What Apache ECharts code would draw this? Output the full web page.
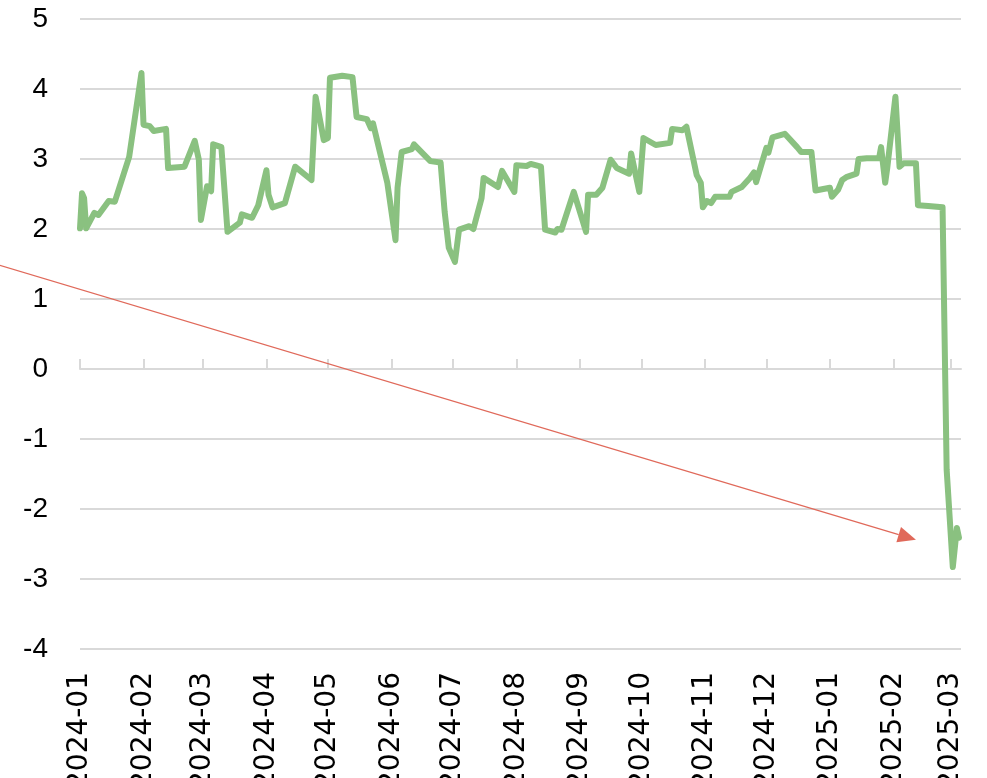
<!DOCTYPE html>
<html>
<head>
<meta charset="utf-8">
<script src="https://cdn.jsdelivr.net/npm/echarts@6/dist/echarts.min.js"></script>
<style>
html,body{margin:0;padding:0;background:#fff;}
#chart{width:987px;height:778px;}
</style>
</head>
<body>
<div id="chart"></div>
<script>
const dates = [
  '2024-01-01','2024-01-02','2024-01-03','2024-01-04','2024-01-08','2024-01-10','2024-01-15','2024-01-18','2024-01-25','2024-01-31',
  '2024-02-01','2024-02-04','2024-02-06','2024-02-12','2024-02-13','2024-02-21','2024-02-26','2024-02-28','2024-02-29',
  '2024-03-03','2024-03-05','2024-03-06','2024-03-10','2024-03-13','2024-03-19','2024-03-20','2024-03-25','2024-03-28',
  '2024-04-01','2024-04-02','2024-04-04','2024-04-10','2024-04-15','2024-04-23','2024-04-25','2024-04-29',
  '2024-05-01','2024-05-02','2024-05-08','2024-05-13','2024-05-15','2024-05-20','2024-05-22','2024-05-23','2024-05-30',
  '2024-06-03','2024-06-04','2024-06-06','2024-06-11','2024-06-12','2024-06-17','2024-06-20','2024-06-25','2024-06-27','2024-06-29',
  '2024-07-02','2024-07-04','2024-07-09','2024-07-11','2024-07-15','2024-07-16','2024-07-23','2024-07-25','2024-07-31',
  '2024-08-01','2024-08-06','2024-08-08','2024-08-13','2024-08-15','2024-08-20','2024-08-21','2024-08-23','2024-08-29',
  '2024-09-04','2024-09-05','2024-09-09','2024-09-12','2024-09-16','2024-09-19','2024-09-25','2024-09-26','2024-09-30',
  '2024-10-02','2024-10-08','2024-10-15','2024-10-16','2024-10-21','2024-10-23','2024-10-28','2024-10-30','2024-10-31',
  '2024-11-02','2024-11-04','2024-11-06','2024-11-13','2024-11-14','2024-11-19','2024-11-23','2024-11-25','2024-11-26',
  '2024-12-01','2024-12-02','2024-12-04','2024-12-10','2024-12-16','2024-12-18','2024-12-23','2024-12-25',
  '2025-01-01','2025-01-02','2025-01-05','2025-01-07','2025-01-09','2025-01-14','2025-01-15','2025-01-19','2025-01-25','2025-01-26','2025-01-28','2025-01-29',
  '2025-02-02','2025-02-04','2025-02-06','2025-02-12','2025-02-13','2025-02-18','2025-02-25','2025-02-27',
  '2025-03-02','2025-03-04','2025-03-05'
];
const values = [
  2.01,2.51,2.44,2.01,2.23,2.2,2.4,2.39,3.03,4.23,
  3.49,3.47,3.4,3.43,2.87,2.89,3.26,2.99,2.13,
  2.61,2.54,3.21,3.17,1.96,2.09,2.21,2.16,2.34,
  2.84,2.49,2.31,2.37,2.89,2.70,3.89,3.27,
  3.3,4.16,4.19,4.17,3.6,3.57,3.44,3.51,2.66,
  1.84,2.59,3.1,3.14,3.21,3.06,2.97,2.95,2.24,1.73,
  1.53,1.99,2.04,2.0,2.44,2.73,2.6,2.83,2.53,
  2.91,2.9,2.93,2.89,1.99,1.95,2.0,1.99,2.53,
  1.96,2.49,2.49,2.59,2.99,2.87,2.79,3.08,2.53,
  3.3,3.2,3.23,3.43,3.41,3.46,2.77,2.66,2.31,
  2.4,2.37,2.46,2.46,2.53,2.6,2.73,2.81,2.67,
  3.16,3.09,3.31,3.36,3.17,3.1,3.1,2.55,
  2.59,2.46,2.56,2.7,2.74,2.79,3.0,3.01,3.01,3.17,2.66,2.87,
  3.89,2.89,2.94,2.94,2.34,2.33,2.31,-1.44,
  -2.83,-2.27,-2.41
];
const monthTicks = ['2024-01','2024-02','2024-03','2024-04','2024-05','2024-06','2024-07','2024-08',
  '2024-09','2024-10','2024-11','2024-12','2025-01','2025-02','2025-03'];
const xMin = '2024-01-01';
const xMax = '2025-03-06';
const yMin = -4, yMax = 5, yStep = 1;
// annotation arrow (data space): start and end
const arrowStart = ['2023-11-22', 1.49];
const arrowEnd = ['2025-02-12', -2.44];

const chart = echarts.init(document.getElementById('chart'), null, {renderer: 'canvas'});
const gridColor = '#d9d9d9';
const t = s => echarts.time.parse(s).getTime();
const seriesData = dates.map((d, i) => [t(d), values[i]]);
const tickValues = monthTicks.map(m => t(m + '-01'));
const tickLabel = {};
monthTicks.forEach((m, i) => { tickLabel[tickValues[i]] = m; });

chart.setOption({
  animation: false,
  grid: {left: 80, right: 26, top: 19, bottom: 129, containLabel: false, outerBoundsMode: 'none'},
  xAxis: [{
    type: 'value',
    min: t(xMin), max: t(xMax),
    axisLine: {show: false, onZero: false},
    axisTick: {show: false},
    splitLine: {show: false},
    axisLabel: {
      rotate: 90, margin: 23,
      customValues: tickValues,
      formatter: function (v) { return tickLabel[v] || ''; },
      fontFamily: 'DejaVu Sans', fontSize: 28, color: '#000', fontWeight: 'normal',
      hideOverlap: false
    }
  }, {
    type: 'value',
    position: 'top',
    min: t(xMin), max: t(xMax),
    axisLine: {show: true, onZero: true, lineStyle: {color: gridColor, width: 2}},
    axisTick: {show: true, length: 10, customValues: tickValues, lineStyle: {color: gridColor, width: 2}},
    axisLabel: {show: false},
    splitLine: {show: false}
  }],
  yAxis: {
    type: 'value', min: yMin, max: yMax, interval: yStep,
    axisLine: {show: false}, axisTick: {show: false},
    splitLine: {show: true, lineStyle: {color: gridColor, width: 2}},
    axisLabel: {margin: 32, fontFamily: 'Liberation Sans', fontSize: 28, color: '#000'}
  },
  series: [{
    type: 'line',
    data: seriesData,
    showSymbol: false,
    symbol: 'none',
    lineStyle: {color: '#8ac180', width: 6, join: 'round', cap: 'round'},
    itemStyle: {color: '#8ac180'}
  }]
});

function drawArrow() {
  const p0 = chart.convertToPixel({xAxisIndex: 0, yAxisIndex: 0}, [t(arrowStart[0]), arrowStart[1]]);
  const p1 = chart.convertToPixel({xAxisIndex: 0, yAxisIndex: 0}, [t(arrowEnd[0]), arrowEnd[1]]);
  const dx = p1[0] - p0[0], dy = p1[1] - p0[1];
  const len = Math.sqrt(dx * dx + dy * dy);
  const ux = dx / len, uy = dy / len, nx = -uy, ny = ux;
  const L = 18, W = 8;
  const bx = p1[0] - ux * L, by = p1[1] - uy * L;
  chart.setOption({
    graphic: [
      {type: 'line', shape: {x1: p0[0], y1: p0[1], x2: bx, y2: by},
       style: {stroke: '#e0695a', lineWidth: 1.2}, z: 10},
      {type: 'polygon', shape: {points: [[p1[0], p1[1]], [bx + nx * W, by + ny * W], [bx - nx * W, by - ny * W]]},
       style: {fill: '#e0695a'}, z: 10}
    ]
  });
}
drawArrow();
</script>
</body>
</html>
